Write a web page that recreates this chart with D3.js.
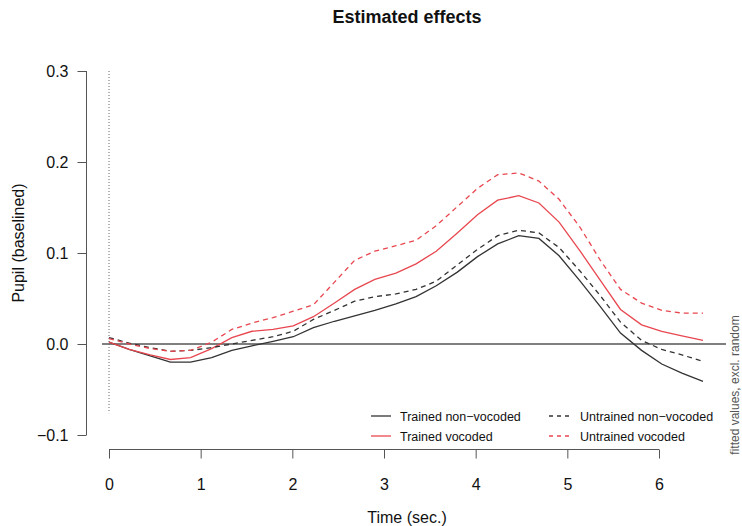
<!DOCTYPE html>
<html lang="en">
<head>
<meta charset="utf-8">
<title>Estimated effects</title>
<script src="https://cdnjs.cloudflare.com/ajax/libs/d3/7.8.5/d3.min.js"></script>
<style>
  body { margin: 0; background: #fff; }
  text { font-family: "Liberation Sans", Arial, Helvetica, sans-serif; }
</style>
</head>
<body>
<svg id="chart" width="742" height="526"></svg>
<script>
// time points (sec.)
var times = [0, 0.22, 0.45, 0.67, 0.89, 1.12, 1.34, 1.56, 1.79, 2.01,
             2.23, 2.46, 2.68, 2.90, 3.13, 3.35, 3.57, 3.80, 4.02, 4.24,
             4.47, 4.69, 4.91, 5.14, 5.36, 5.58, 5.81, 6.03, 6.25, 6.48];

// fitted values per condition
var trainedNonVoc = [0.002, -0.006, -0.013, -0.020, -0.020, -0.015, -0.007, -0.002, 0.003, 0.008,
                     0.018, 0.025, 0.031, 0.037, 0.044, 0.052, 0.064, 0.079, 0.096, 0.110,
                     0.119, 0.116, 0.097, 0.069, 0.041, 0.012, -0.007, -0.022, -0.032, -0.041];
var untrainedNonVoc = [0.007, 0.001, -0.004, -0.008, -0.007, -0.004, 0.000, 0.004, 0.008, 0.014,
                       0.027, 0.037, 0.047, 0.052, 0.055, 0.060, 0.069, 0.087, 0.104, 0.119,
                       0.125, 0.122, 0.106, 0.080, 0.053, 0.024, 0.004, -0.006, -0.012, -0.019];
var trainedVoc = [0.002, -0.006, -0.012, -0.017, -0.015, -0.005, 0.007, 0.014, 0.016, 0.020,
                  0.030, 0.045, 0.060, 0.071, 0.078, 0.088, 0.102, 0.122, 0.142, 0.158,
                  0.163, 0.155, 0.134, 0.102, 0.070, 0.038, 0.021, 0.014, 0.009, 0.004];
var untrainedVoc = [0.006, 0.000, -0.005, -0.008, -0.007, 0.002, 0.016, 0.023, 0.029, 0.036,
                    0.043, 0.068, 0.092, 0.102, 0.108, 0.114, 0.130, 0.151, 0.171, 0.186,
                    0.188, 0.179, 0.159, 0.128, 0.092, 0.060, 0.045, 0.037, 0.034, 0.034];

var labels = ["Trained non\u2212vocoded", "Trained vocoded", "Untrained non\u2212vocoded", "Untrained vocoded"];
var xTicks = [0, 1, 2, 3, 4, 5, 6];
var yTicks = [-0.1, 0, 0.1, 0.2, 0.3];

var series = [
  {name: labels[0], values: trainedNonVoc, color: "#333333", dash: null},
  {name: labels[1], values: trainedVoc, color: "#e8474f", dash: null},
  {name: labels[2], values: untrainedNonVoc, color: "#333333", dash: "5,4"},
  {name: labels[3], values: untrainedVoc, color: "#e8474f", dash: "5,4"}
];

var svg = d3.select("#chart");

var x = d3.scaleLinear().domain([0, 6]).range([109, 659]);
var y = d3.scaleLinear().domain([-0.1, 0.3]).range([435, 71]);

// title
svg.append("text").attr("x", 407).attr("y", 23).attr("text-anchor", "middle")
  .attr("font-size", 18).attr("font-weight", "bold").attr("fill", "#111").text("Estimated effects");

// y axis
var yAxis = svg.append("g").attr("transform", "translate(86.5,0)")
  .call(d3.axisLeft(y).tickValues(yTicks).tickSize(9).tickPadding(9)
        .tickFormat(function(d) { return d3.format(".1f")(d).replace("-", "\u2212"); }));
yAxis.select(".domain").attr("stroke", "#555").attr("d", "M0," + y(0.3) + "V" + y(-0.1));
yAxis.selectAll(".tick line").attr("stroke", "#555");
yAxis.selectAll(".tick text").attr("font-size", 16).attr("fill", "#111")
  .style("font-family", "'Liberation Sans', Arial, sans-serif");

// x axis
var xAxis = svg.append("g").attr("transform", "translate(0,449.5)")
  .call(d3.axisBottom(x).tickValues(xTicks).tickSize(9).tickPadding(20).tickFormat(d3.format("d")));
xAxis.select(".domain").attr("stroke", "#555").attr("d", "M" + x(0) + ",0H" + x(6));
xAxis.selectAll(".tick line").attr("stroke", "#555");
xAxis.selectAll(".tick text").attr("font-size", 16).attr("fill", "#111")
  .style("font-family", "'Liberation Sans', Arial, sans-serif");

// axis titles
svg.append("text").attr("x", 407).attr("y", 523).attr("text-anchor", "middle")
  .attr("font-size", 16).attr("fill", "#111").text("Time (sec.)");
svg.append("text").attr("transform", "translate(24,243) rotate(-90)").attr("text-anchor", "middle")
  .attr("font-size", 16).attr("fill", "#111").text("Pupil (baselined)");

// reference lines
svg.append("line").attr("x1", 102).attr("x2", 726).attr("y1", y(0)).attr("y2", y(0))
  .attr("stroke", "#555").attr("stroke-width", 1.3);
svg.append("line").attr("x1", x(0)).attr("x2", x(0)).attr("y1", y(0.3)).attr("y2", y(-0.076))
  .attr("stroke", "#666").attr("stroke-width", 1).attr("stroke-dasharray", "1,2");

// curves
var line = d3.line().x(function(d, i) { return x(times[i]); }).y(function(d) { return y(d); });
series.forEach(function(s) {
  svg.append("path").datum(s.values).attr("d", line)
    .attr("fill", "none").attr("stroke", s.color).attr("stroke-width", 1.3)
    .attr("stroke-dasharray", s.dash);
});

// legend
var legPos = [[371, 416], [371, 436], [549, 416], [549, 436]];
series.forEach(function(s, i) {
  var p = legPos[i];
  var tx = i < 2 ? 400 : 580;
  svg.append("line").attr("x1", p[0]).attr("x2", p[0] + 20).attr("y1", p[1]).attr("y2", p[1])
    .attr("stroke", s.color).attr("stroke-width", 1.3).attr("stroke-dasharray", s.dash ? "4,4" : null);
  svg.append("text").attr("x", tx).attr("y", p[1] + 4.5).attr("font-size", 12.5)
    .attr("fill", "#111").text(s.name);
});

// side note
svg.append("text").attr("transform", "translate(738.5,385) rotate(-90)").attr("text-anchor", "middle")
  .attr("font-size", 12).attr("fill", "#555").text("fitted values, excl. random");
</script>
</body>
</html>
